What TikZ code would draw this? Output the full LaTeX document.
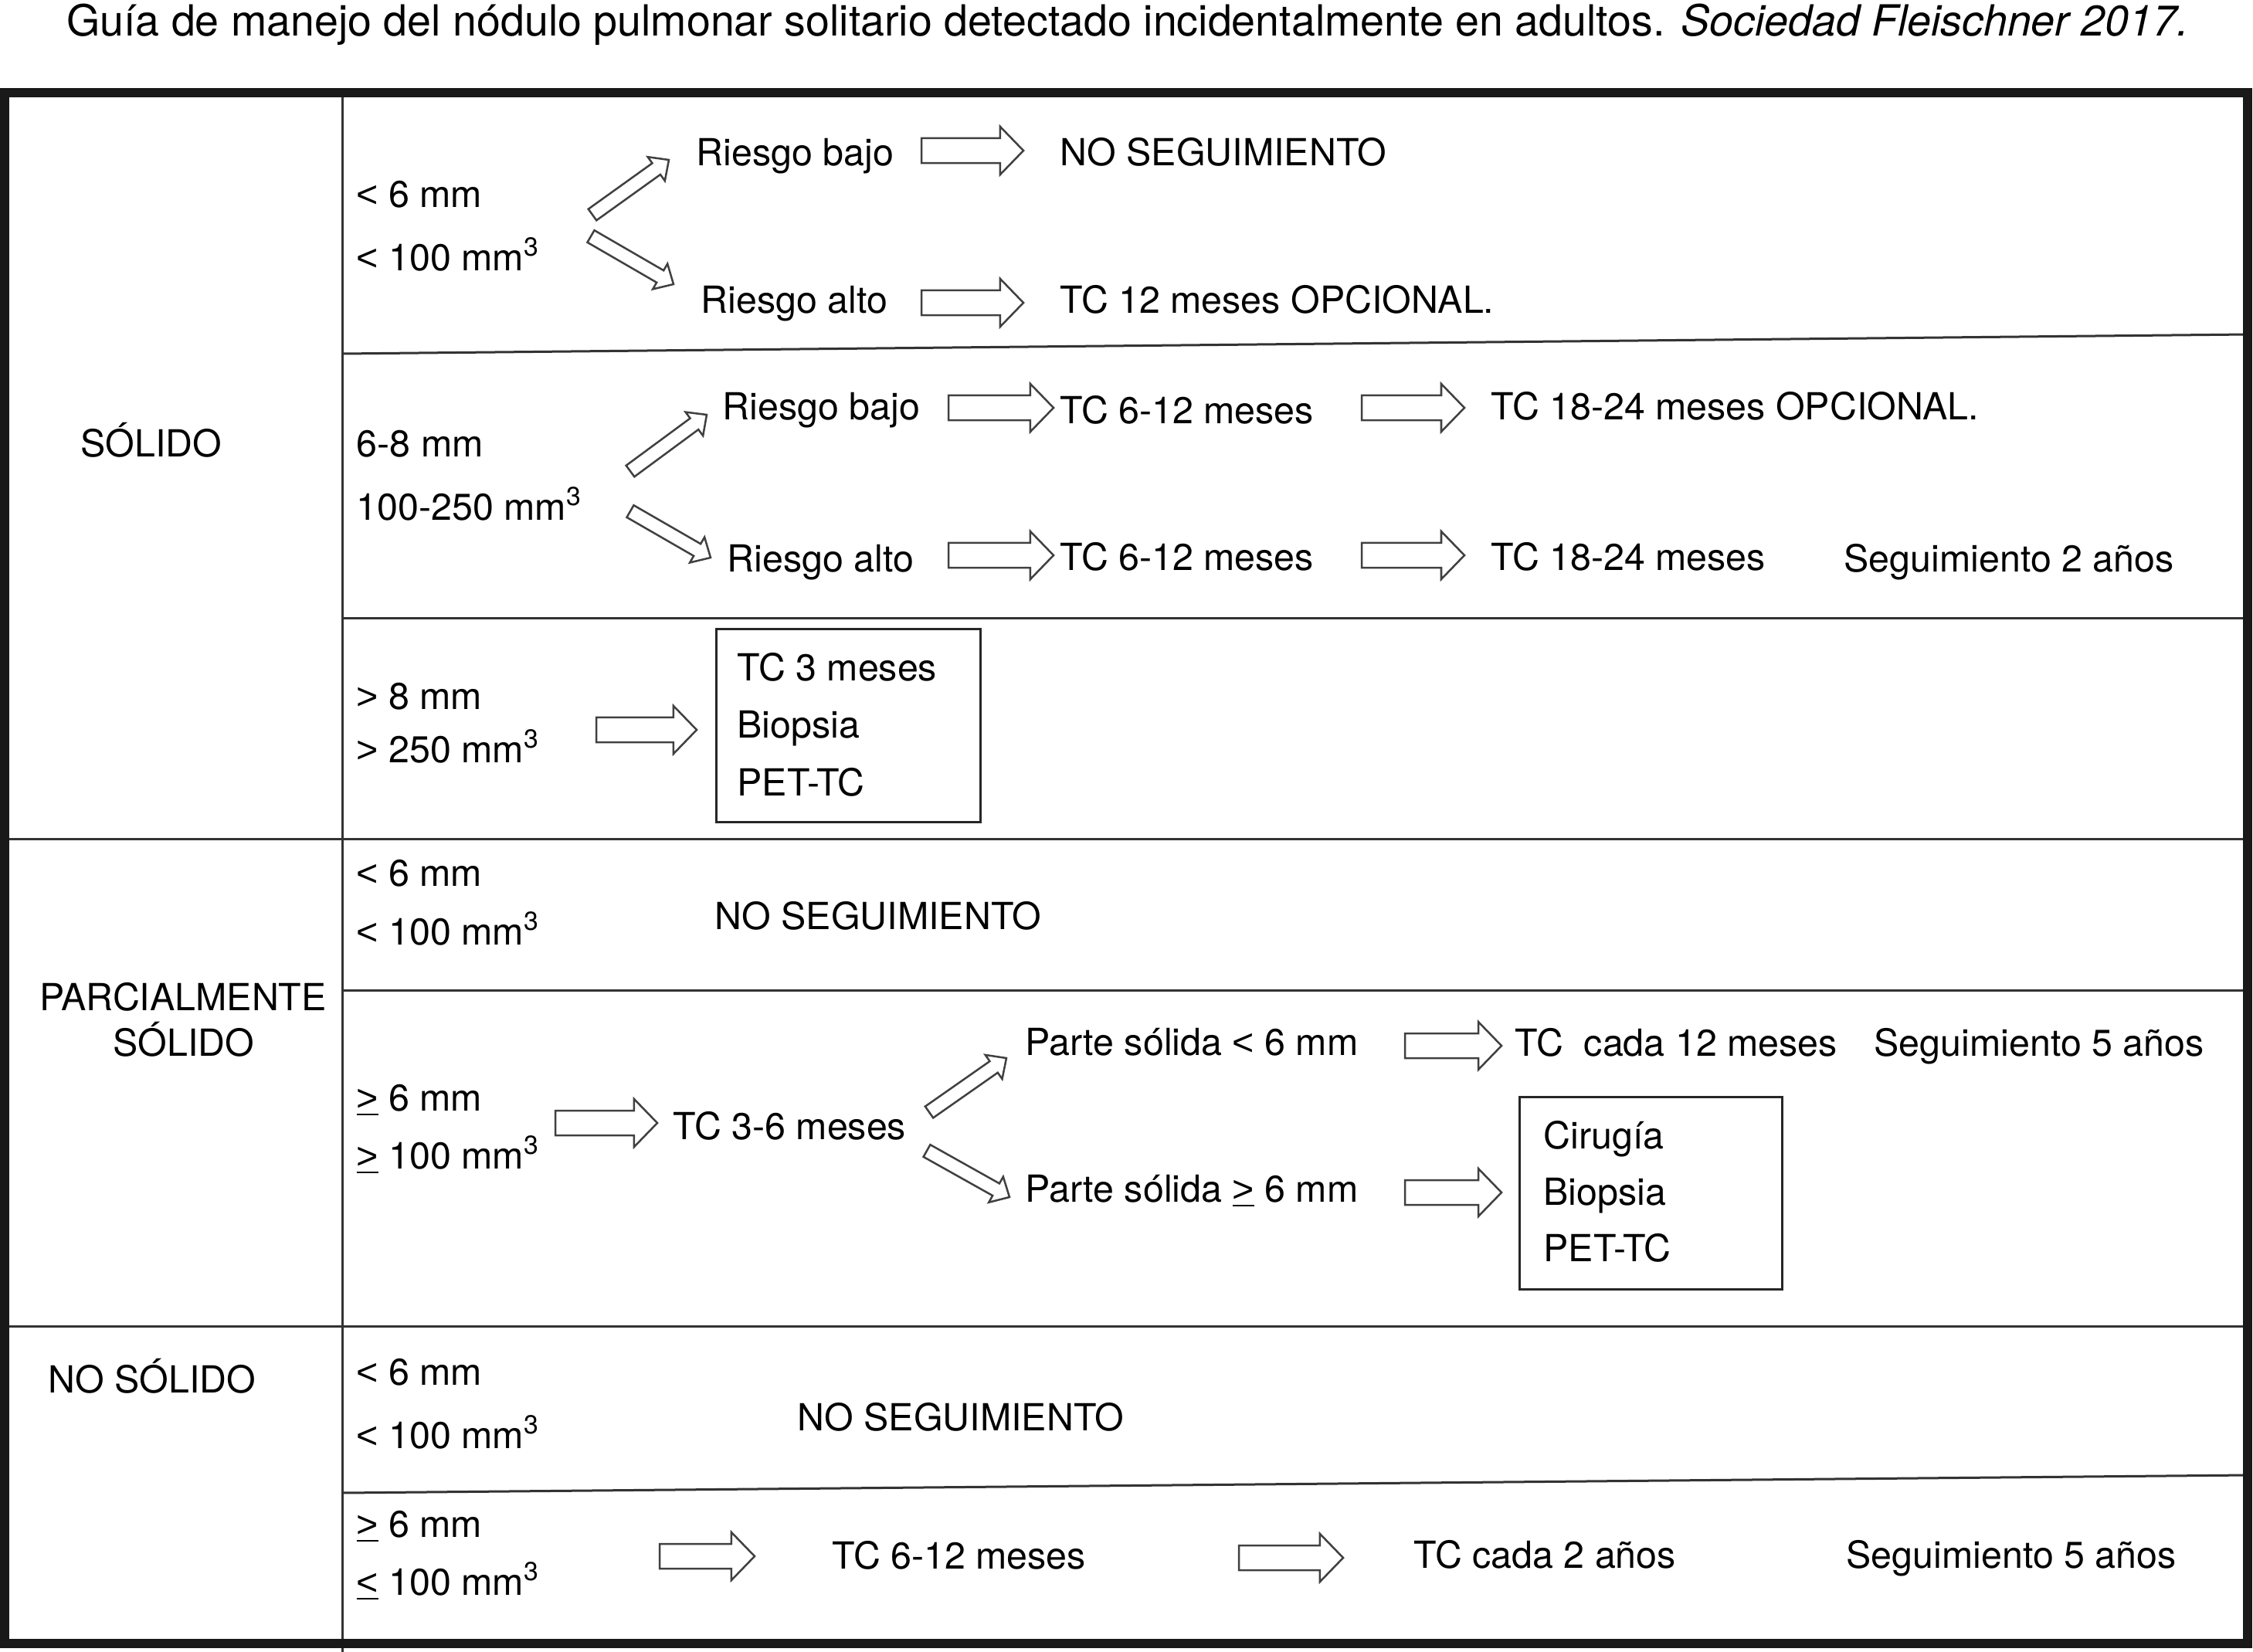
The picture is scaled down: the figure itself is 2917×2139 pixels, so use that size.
\documentclass[tikz,border=0pt]{standalone}
\usepackage{fontspec}
\setmainfont{TeX Gyre Heros}
\newfontfamily\relfont{Liberation Sans}
\usetikzlibrary{calc}
\newcommand\bodyfont{\fontsize{13.75}{16}\selectfont}
\newcommand\titlefont{\fontsize{15.8}{19}\selectfont}
\newcommand\lt{{\relfont <}}
\newcommand\gt{{\relfont >}}
\newcommand\ugt{\underline{\relfont >}}
\newcommand\ult{\underline{\relfont <}}
\newcommand\mmc{mm\textsuperscript{3}}
% #1 tail, #2 tip, #3 half shaft, #4 half head, #5 head length
\newcommand\fatarr[5]{%
  \coordinate (fatn) at ($(#2)!#5!(#1)$);
  \draw[arrline] ($(#1)!#3!90:(#2)$) -- ($(fatn)!#3!-90:(#1)$) -- ($(fatn)!#4!-90:(#1)$) -- (#2)
     -- ($(fatn)!#4!90:(#1)$) -- ($(fatn)!#3!90:(#1)$) -- ($(#1)!#3!-90:(#2)$) -- cycle;}
\newcommand\harrow[2]{\fatarr{#1}{#2}{0.16cm}{0.31cm}{0.30cm}}
\newcommand\darrow[2]{\fatarr{#1}{#2}{0.09cm}{0.19cm}{0.20cm}}
\tikzset{
  arrline/.style={draw=black!75, line width=0.025cm, fill=white, line join=miter},
  gridline/.style={draw=black!80, line width=0.03cm},
  frameline/.style={draw=black!90, line width=0.12cm},
  txt/.style={anchor=base west, inner sep=0pt, font=\bodyfont},
  ctxt/.style={anchor=base, inner sep=0pt, font=\bodyfont},
  boxst/.style={draw=black!85, line width=0.03cm, inner sep=0pt}
}
\begin{document}
\begin{tikzpicture}[x=0.01cm,y=-0.01cm]
\useasboundingbox (0,0) rectangle (2917,2139);
\fill[white] (0,0) rectangle (2917,2139);
% title
\node[anchor=base, inner sep=0pt, font=\titlefont] (title) at (1460,46)
  {Guía de manejo del nódulo pulmonar solitario detectado incidentalmente en adultos. \textit{Sociedad Fleischner 2017.}};
% grid
\draw[gridline] (443,120) -- (443,2139);
\draw[gridline] (443,458) -- (2910,433);
\draw[gridline] (443,800) -- (2910,800);
\draw[gridline] (6,1086) -- (2910,1086);
\draw[gridline] (443,1282) -- (2910,1282);
\draw[gridline] (6,1717) -- (2910,1717);
\draw[gridline] (443,1933) -- (2910,1910);
\draw[frameline] (6,120) rectangle (2910,2128);
% left column
\node[txt] (solido) at (104,591) {SÓLIDO};
\node[ctxt] (parc1) at (237,1308) {PARCIALMENTE};
\node[ctxt] (parc2) at (238,1367) {SÓLIDO};
\node[txt] (nosol) at (62,1803) {NO SÓLIDO};
% row 1
\node[txt] (r1a) at (461,268) {\lt{} 6 mm};
\node[txt] (r1b) at (461,350) {\lt{} 100 \mmc};
\node[txt] (r1lo) at (901,214) {Riesgo bajo};
\node[txt] (r1hi) at (907,405) {Riesgo alto};
\node[txt] (r1ns) at (1372,214) {NO SEGUIMIENTO};
\node[txt] (r1tc) at (1372,405) {TC 12 meses OPCIONAL.};
\coordinate (d1us) at (767,278); \coordinate (d1ue) at (866,207);
\coordinate (d1ds) at (765,306); \coordinate (d1de) at (872,368);
\coordinate (h1as) at (1193,195); \coordinate (h1ae) at (1325,195);
\coordinate (h1bs) at (1193,392); \coordinate (h1be) at (1325,392);
\darrow{d1us}{d1ue} \darrow{d1ds}{d1de}
\harrow{h1as}{h1ae} \harrow{h1bs}{h1be}
% row 2
\node[txt] (r2a) at (461,591) {6-8 mm};
\node[txt] (r2b) at (461,673) {100-250 \mmc};
\node[txt] (r2lo) at (935,543) {Riesgo bajo};
\node[txt] (r2hi) at (941,740) {Riesgo alto};
\node[txt] (r2t1) at (1372,548) {TC 6-12 meses};
\node[txt] (r2t2) at (1930,543) {TC 18-24 meses OPCIONAL.};
\node[txt] (r2t3) at (1372,738) {TC 6-12 meses};
\node[txt] (r2t4) at (1930,738) {TC 18-24 meses};
\node[txt] (r2seg) at (2387,740) {Seguimiento 2 años};
\coordinate (d2us) at (816,610); \coordinate (d2ue) at (915,537);
\coordinate (d2ds) at (816,662); \coordinate (d2de) at (920,722);
\coordinate (h2as) at (1228,528); \coordinate (h2ae) at (1364,528);
\coordinate (h2bs) at (1763,528); \coordinate (h2be) at (1896,528);
\coordinate (h2cs) at (1228,719); \coordinate (h2ce) at (1364,719);
\coordinate (h2ds) at (1763,719); \coordinate (h2de) at (1896,719);
\darrow{d2us}{d2ue} \darrow{d2ds}{d2de}
\harrow{h2as}{h2ae} \harrow{h2bs}{h2be} \harrow{h2cs}{h2ce} \harrow{h2ds}{h2de}
% row 3
\node[txt] (r3a) at (461,918) {\gt{} 8 mm};
\node[txt] (r3b) at (461,987) {\gt{} 250 \mmc};
\node[boxst, minimum width=3.41cm, minimum height=2.49cm] (box1) at (1098.5,939.5) {};
\node[txt] (b1a) at (954,881) {TC 3 meses};
\node[txt] (b1b) at (954,955) {Biopsia};
\node[txt] (b1c) at (954,1030) {PET-TC};
\coordinate (h3s) at (772,945); \coordinate (h3e) at (902,945);
\harrow{h3s}{h3e}
% parcialmente solido
\node[txt] (p1a) at (461,1147) {\lt{} 6 mm};
\node[txt] (p1b) at (461,1223) {\lt{} 100 \mmc};
\node[txt] (p1ns) at (925,1203) {NO SEGUIMIENTO};
\node[txt] (p2a) at (461,1438) {\ugt{} 6 mm};
\node[txt] (p2b) at (461,1513) {\ugt{} 100 \mmc};
\node[txt] (p2tc) at (871,1475) {TC 3-6 meses};
\node[txt] (p2lo) at (1327,1366) {Parte sólida \lt{} 6 mm};
\node[txt] (p2hi) at (1327,1556) {Parte sólida \ugt{} 6 mm};
\node[txt] (p2tc12) at (1961,1367) {TC\ \ cada 12 meses};
\node[txt] (p2seg) at (2426,1367) {Seguimiento 5 años};
\node[boxst, minimum width=3.39cm, minimum height=2.48cm] (box2) at (2137.5,1545) {};
\node[txt] (b2a) at (1998,1487) {Cirugía};
\node[txt] (b2b) at (1998,1560) {Biopsia};
\node[txt] (b2c) at (1998,1633) {PET-TC};
\coordinate (hp1s) at (719,1454); \coordinate (hp1e) at (851,1454);
\coordinate (dpus) at (1203,1440); \coordinate (dpue) at (1303,1370);
\coordinate (dpds) at (1200,1490); \coordinate (dpde) at (1307,1550);
\coordinate (hp2s) at (1819,1354); \coordinate (hp2e) at (1944,1354);
\coordinate (hp3s) at (1819,1544); \coordinate (hp3e) at (1944,1544);
\harrow{hp1s}{hp1e} \darrow{dpus}{dpue} \darrow{dpds}{dpde}
\harrow{hp2s}{hp2e} \harrow{hp3s}{hp3e}
% no solido
\node[txt] (n1a) at (461,1793) {\lt{} 6 mm};
\node[txt] (n1b) at (461,1875) {\lt{} 100 \mmc};
\node[txt] (n1ns) at (1032,1852) {NO SEGUIMIENTO};
\node[txt] (n2a) at (461,1990) {\ugt{} 6 mm};
\node[txt] (n2b) at (461,2065) {\ult{} 100 \mmc};
\node[txt] (n2tc) at (1077,2031) {TC 6-12 meses};
\node[txt] (n2tc2) at (1830,2030) {TC cada 2 años};
\node[txt] (n2seg) at (2390,2030) {Seguimiento 5 años};
\coordinate (hn1s) at (854,2015); \coordinate (hn1e) at (977,2015);
\coordinate (hn2s) at (1604,2017); \coordinate (hn2e) at (1739,2017);
\harrow{hn1s}{hn1e} \harrow{hn2s}{hn2e}
\end{tikzpicture}
\end{document}
